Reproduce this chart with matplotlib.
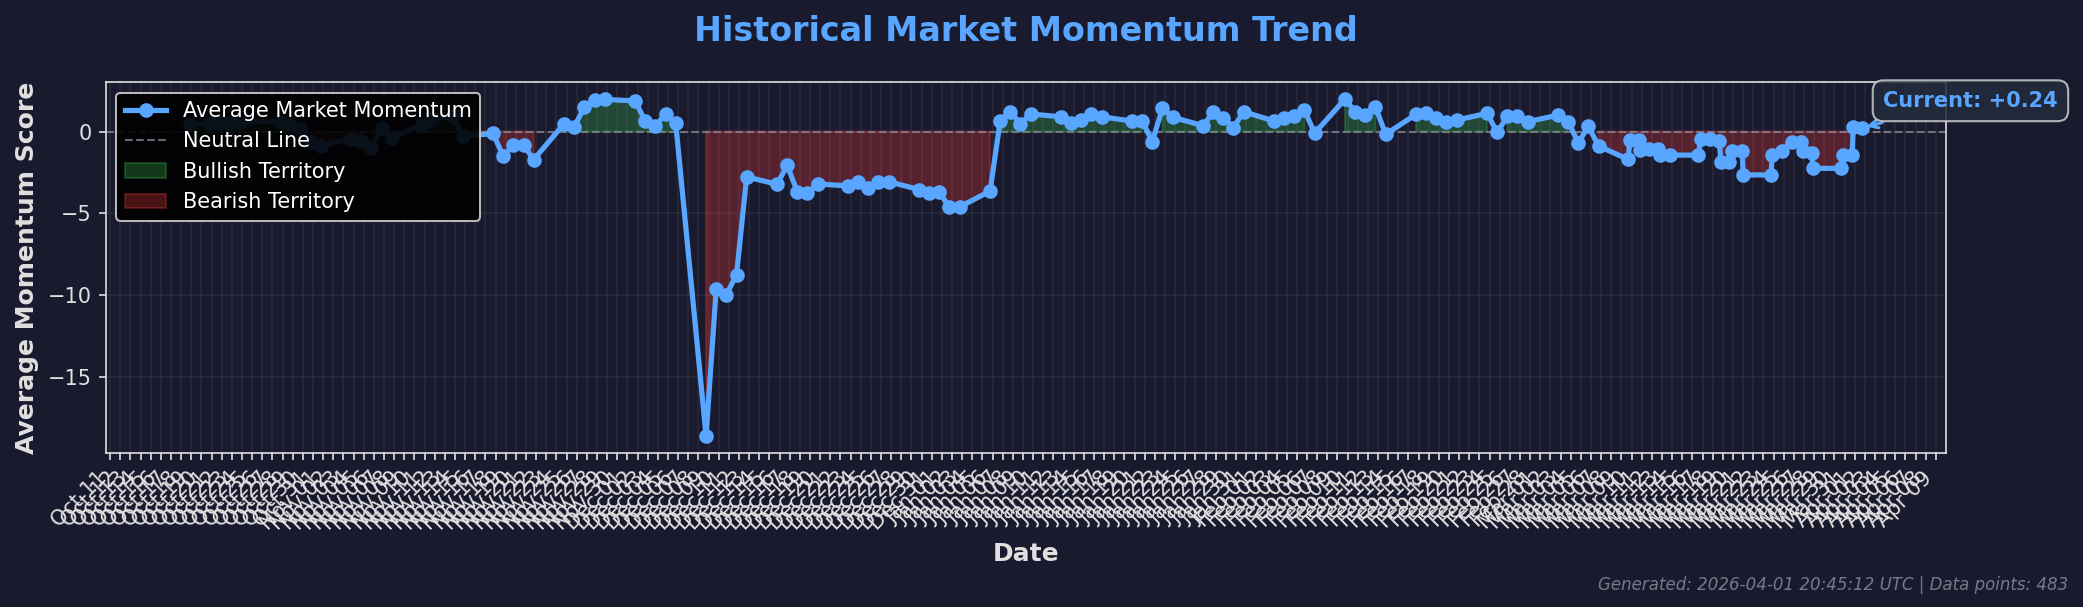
import numpy as np
import pandas as pd
import matplotlib
matplotlib.use('Agg')
import matplotlib.pyplot as plt
import matplotlib.dates as mdates

# daily (and some intraday) average momentum readings
timestamps = [
    '2025-10-18 20:00', '2025-10-20 18:00', '2025-10-21 18:00', '2025-10-22 18:00', '2025-10-23 18:00',
    '2025-10-27 18:00', '2025-10-28 18:00', '2025-10-29 18:00', '2025-10-30 18:00', '2025-10-31 18:00',
    '2025-11-03 18:00', '2025-11-04 18:00', '2025-11-05 18:00', '2025-11-06 18:00', '2025-11-07 18:00',
    '2025-11-10 18:00', '2025-11-11 18:00', '2025-11-13 18:00', '2025-11-14 18:00',
    '2025-11-17 18:00', '2025-11-18 18:00', '2025-11-19 18:00', '2025-11-20 18:00', '2025-11-21 18:00',
    '2025-11-24 18:00', '2025-11-25 18:00', '2025-11-26 18:00', '2025-11-27 18:00', '2025-11-28 18:00',
    '2025-12-01 18:00', '2025-12-02 18:00', '2025-12-03 18:00', '2025-12-04 18:00', '2025-12-05 18:00',
    '2025-12-08 18:00', '2025-12-09 18:00', '2025-12-10 18:00', '2025-12-11 18:00', '2025-12-12 18:00',
    '2025-12-15 18:00', '2025-12-16 18:00', '2025-12-17 18:00', '2025-12-18 18:00', '2025-12-19 18:00',
    '2025-12-22 18:00', '2025-12-23 18:00', '2025-12-24 18:00', '2025-12-25 18:00', '2025-12-26 18:00',
    '2025-12-29 18:00', '2025-12-30 18:00', '2025-12-31 18:00', '2026-01-01 18:00', '2026-01-02 18:00',
    '2026-01-05 18:00', '2026-01-06 18:00', '2026-01-07 18:00', '2026-01-08 18:00', '2026-01-09 18:00',
    '2026-01-12 18:00', '2026-01-13 18:00', '2026-01-14 18:00', '2026-01-15 18:00', '2026-01-16 18:00',
    '2026-01-19 18:00', '2026-01-20 18:00', '2026-01-21 18:00', '2026-01-22 18:00', '2026-01-23 18:00',
    '2026-01-26 18:00', '2026-01-27 18:00', '2026-01-28 18:00', '2026-01-29 18:00', '2026-01-30 18:00',
    '2026-02-02 18:00', '2026-02-03 18:00', '2026-02-04 18:00', '2026-02-05 18:00', '2026-02-06 18:00',
    '2026-02-09 18:00', '2026-02-10 18:00', '2026-02-11 18:00', '2026-02-12 18:00', '2026-02-13 18:00',
    '2026-02-16 18:00', '2026-02-17 18:00', '2026-02-18 18:00', '2026-02-19 18:00', '2026-02-20 18:00',
    '2026-02-23 18:00', '2026-02-24 18:00', '2026-02-25 18:00', '2026-02-26 18:00', '2026-02-27 18:00',
    '2026-03-02 18:00', '2026-03-03 18:00', '2026-03-04 18:00', '2026-03-05 18:00', '2026-03-06 18:00',
    '2026-03-09 16:00', '2026-03-09 20:00', '2026-03-10 17:30', '2026-03-10 20:00', '2026-03-11 17:30',
    '2026-03-12 15:00', '2026-03-12 19:00', '2026-03-13 19:00', '2026-03-16 14:00', '2026-03-16 20:00',
    '2026-03-17 17:30', '2026-03-18 15:00', '2026-03-18 19:30', '2026-03-19 14:30', '2026-03-19 22:30',
    '2026-03-20 22:00', '2026-03-21 00:00', '2026-03-23 17:45', '2026-03-23 21:00', '2026-03-24 19:00',
    '2026-03-25 20:00', '2026-03-26 17:00', '2026-03-26 22:00', '2026-03-27 18:00', '2026-03-27 21:30',
    '2026-03-30 15:00', '2026-03-30 20:30', '2026-03-31 18:00', '2026-03-31 20:30', '2026-04-01 18:00',
]

momentum = [
    0.45, 0.55, 0.52, 0.55, 0.60,
    0.60, 0.40, 0.15, -0.65, -0.87,
    -0.44, -0.58, -0.98, 0.20, -0.38,
    0.42, 0.74, 0.92, -0.30,
    -0.12, -1.50, -0.85, -0.80, -1.72,
    0.48, 0.30, 1.48, 1.95, 1.96,
    1.87, 0.64, 0.32, 1.08, 0.55,
    -18.60, -9.60, -9.96, -8.75, -2.77,
    -3.22, -2.06, -3.68, -3.78, -3.20,
    -3.32, -3.07, -3.42, -3.07, -3.07,
    -3.54, -3.76, -3.70, -4.63, -4.60,
    -3.64, 0.66, 1.21, 0.48, 1.07,
    0.90, 0.50, 0.70, 1.05, 0.90,
    0.64, 0.64, -0.61, 1.45, 0.87,
    0.36, 1.17, 0.85, 0.24, 1.21,
    0.64, 0.85, 0.95, 1.31, -0.10,
    1.98, 1.21, 1.00, 1.51, -0.17,
    1.05, 1.11, 0.80, 0.60, 0.70,
    1.11, -0.05, 0.92, 0.92, 0.60,
    1.00, 0.60, -0.69, 0.32, -0.89,
    -1.70, -0.49, -0.49, -1.15, -1.05,
    -1.04, -1.44, -1.44, -1.44, -0.43,
    -0.43, -0.55, -1.84, -1.84, -1.16,
    -1.16, -2.65, -2.65, -1.44, -1.16,
    -0.63, -0.63, -1.16, -1.30, -2.25,
    -2.25, -1.44, -1.44, 0.26, 0.24,
]

total_points = 483
generated = '2026-04-01 20:45:12 UTC'

BG = '#1a1a2e'
BLUE = '#58a6ff'
TXT = '#e0e0e0'

x = pd.to_datetime(timestamps).values
y = np.array(momentum)

fig, ax = plt.subplots(figsize=(2083 / 150, 607 / 150), dpi=150)
fig.patch.set_facecolor(BG)
ax.set_facecolor(BG)
fig.subplots_adjust(left=0.0509, right=0.9342, top=0.8645, bottom=0.2537)

ax.plot(x, y, color=BLUE, linewidth=2.5, marker='o', markersize=6,
        label='Average Market Momentum', zorder=3)
ax.axhline(0, color='#8b8b96', linestyle='--', linewidth=1, alpha=0.75,
           label='Neutral Line')
ax.fill_between(x, y, 0, where=y >= 0, color='#2ea043', alpha=0.35,
                label='Bullish Territory')
ax.fill_between(x, y, 0, where=y < 0, color='#da3633', alpha=0.32,
                label='Bearish Territory')

ax.set_title('Historical Market Momentum Trend', fontsize=16,
             fontweight='bold', color=BLUE, pad=20)
ax.set_xlabel('Date', fontsize=12, fontweight='bold', color=TXT)
ax.set_ylabel('Average Momentum Score', fontsize=12, fontweight='bold', color=TXT)

ax.xaxis.set_major_locator(mdates.DayLocator(interval=1))
ax.xaxis.set_major_formatter(mdates.DateFormatter('%b %d'))
plt.setp(ax.get_xticklabels(), rotation=45, ha='right')
ax.tick_params(colors=TXT, labelsize=10)
ax.grid(True, color='#b0b0b0', alpha=0.09, linewidth=0.8)
for s in ax.spines.values():
    s.set_color(TXT)

leg = ax.legend(loc='upper left', fontsize=10, facecolor='black',
                edgecolor='#cccccc', framealpha=0.9)
for t in leg.get_texts():
    t.set_color('white')

cur = y[-1]
ax.annotate(f'Current: {cur:+.2f}', xy=(x[-1], cur), xytext=(10, 10),
            textcoords='offset points', fontsize=10, fontweight='bold',
            color=BLUE,
            bbox=dict(boxstyle='round,pad=0.5', facecolor='#222b3d',
                      edgecolor='#cccccc', alpha=0.85),
            arrowprops=dict(arrowstyle='->', color=BLUE, lw=1.5))

fig.text(0.993, 0.022, f'Generated: {generated} | Data points: {total_points}',
         ha='right', va='bottom', fontsize=8, style='italic',
         color='#8b949e', alpha=0.8)

fig.savefig('out.png', dpi=150, facecolor=BG)
